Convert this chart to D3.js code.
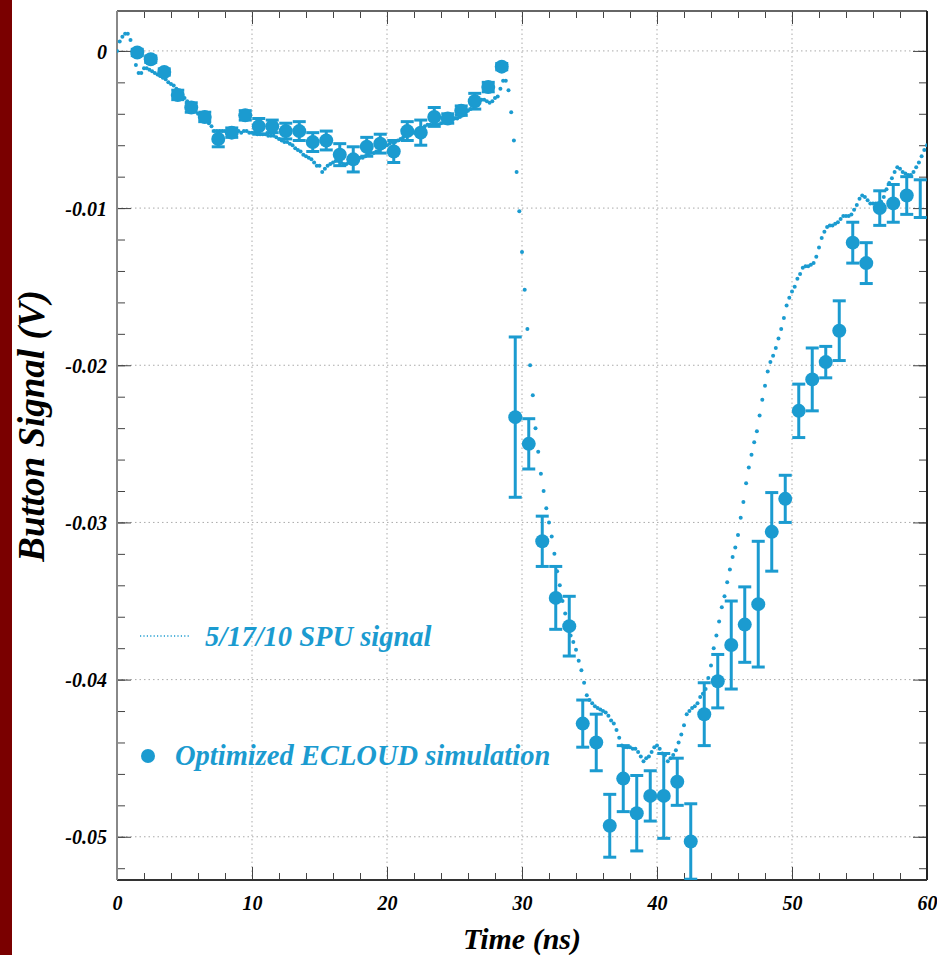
<!DOCTYPE html>
<html>
<head>
<meta charset="utf-8">
<script src="https://cdn.jsdelivr.net/npm/d3@7"></script>
<style>
  body { margin: 0; background: #fff; }
  svg { display: block; }
</style>
</head>
<body>
<svg id="chart"></svg>
<script>
// plot frame in page pixels
var frame = { left: 117, right: 927, top: 11, bottom: 880 };
var width = 937;
var height = 955;
var blue = '#1b9bd0';

// axis ticks and labels
var xMajor = [0, 10, 20, 30, 40, 50, 60];
var xLabels = ['0', '10', '20', '30', '40', '50', '60'];
var yMajor = [0, -0.01, -0.02, -0.03, -0.04, -0.05];
var yLabels = ['0', '-0.01', '-0.02', '-0.03', '-0.04', '-0.05'];

// optimized ECLOUD simulation (ns, V, error V)
var simTime = [1.5, 2.5, 3.5, 4.5, 5.5, 6.5, 7.5, 8.5, 9.5, 10.5,
  11.5, 12.5, 13.5, 14.5, 15.5, 16.5, 17.5, 18.5, 19.5, 20.5,
  21.5, 22.5, 23.5, 24.5, 25.5, 26.5, 27.5, 28.5, 29.5, 30.5,
  31.5, 32.5, 33.5, 34.5, 35.5, 36.5, 37.5, 38.5, 39.5, 40.5,
  41.5, 42.5, 43.5, 44.5, 45.5, 46.5, 47.5, 48.5, 49.5, 50.5,
  51.5, 52.5, 53.5, 54.5, 55.5, 56.5, 57.5, 58.5, 59.5];
var simValue = [-0.0001, -0.00053, -0.00134, -0.0028, -0.0036, -0.0042, -0.0056, -0.0052, -0.0041, -0.0048,
  -0.0048, -0.0051, -0.0051, -0.0058, -0.0057, -0.0066, -0.0069, -0.0061, -0.0059, -0.0064,
  -0.0051, -0.0052, -0.0042, -0.0043, -0.0038, -0.0032, -0.0023, -0.0010, -0.0233, -0.0250,
  -0.0312, -0.0348, -0.0366, -0.0428, -0.0440, -0.0493, -0.0463, -0.0485, -0.0474, -0.0474,
  -0.0465, -0.0503, -0.0422, -0.0401, -0.0378, -0.0365, -0.0352, -0.0306, -0.0285, -0.0229,
  -0.0209, -0.0198, -0.0178, -0.0122, -0.0135, -0.0100, -0.0097, -0.0092, -0.0094];
var simError = [0.0002, 0.0002, 0.0002, 0.0003, 0.0003, 0.0003, 0.0005, 0.0003, 0.0003, 0.0005,
  0.0004, 0.0005, 0.0006, 0.0006, 0.0006, 0.0007, 0.0008, 0.0006, 0.0006, 0.0007,
  0.0006, 0.0008, 0.0006, 0.0003, 0.0003, 0.0005, 0.0003, 0.0002, 0.0051, 0.0016,
  0.0016, 0.0020, 0.0019, 0.0015, 0.0018, 0.0020, 0.0021, 0.0024, 0.0016, 0.0027,
  0.0015, 0.0024, 0.0020, 0.0017, 0.0028, 0.0024, 0.0040, 0.0025, 0.0015, 0.0017,
  0.0020, 0.0010, 0.0019, 0.0013, 0.0013, 0.0011, 0.0012, 0.0012, 0.0012];

// 5/17/10 SPU signal, one sample every 0.2 ns starting at 0 ns
var signalStep = 0.2;
var signalValue = [
  0.0000, 0.0006, 0.0009, 0.0011, 0.0011,       // 0 ns
  0.0007, 0.0000, -0.0009, -0.0014, -0.0014,    // 1
  -0.0011, -0.0011, -0.0012, -0.0013, -0.0014,  // 2
  -0.0015, -0.0016, -0.0017, -0.0018, -0.0020,  // 3
  -0.0021, -0.0022, -0.0024, -0.0026, -0.0028,  // 4
  -0.0030, -0.0032, -0.0034, -0.0036, -0.0038,  // 5
  -0.0040, -0.0041, -0.0043, -0.0044, -0.0046,  // 6
  -0.0048, -0.0051, -0.0051, -0.0051, -0.0051,  // 7
  -0.0051, -0.0051, -0.0052, -0.0051, -0.0051,  // 8
  -0.0051, -0.0052, -0.0051, -0.0051, -0.0052,  // 9
  -0.0052, -0.0052, -0.0053, -0.0053, -0.0053,  // 10
  -0.0053, -0.0054, -0.0054, -0.0054, -0.0055,  // 11
  -0.0056, -0.0057, -0.0058, -0.0058, -0.0059,  // 12
  -0.0060, -0.0062, -0.0063, -0.0064, -0.0066,  // 13
  -0.0067, -0.0068, -0.0069, -0.0071, -0.0073,  // 14
  -0.0073, -0.0077, -0.0075, -0.0073, -0.0072,  // 15
  -0.0071, -0.0070, -0.0070, -0.0071, -0.0072,  // 16
  -0.0072, -0.0071, -0.0070, -0.0069, -0.0069,  // 17
  -0.0068, -0.0068, -0.0067, -0.0066, -0.0065,  // 18
  -0.0065, -0.0064, -0.0064, -0.0062, -0.0061,  // 19
  -0.0060, -0.0059, -0.0058, -0.0058, -0.0057,  // 20
  -0.0056, -0.0055, -0.0054, -0.0053, -0.0052,  // 21
  -0.0052, -0.0051, -0.0050, -0.0049, -0.0048,  // 22
  -0.0047, -0.0047, -0.0047, -0.0047, -0.0047,  // 23
  -0.0046, -0.0045, -0.0044, -0.0043, -0.0043,  // 24
  -0.0043, -0.0043, -0.0042, -0.0041, -0.0039,  // 25
  -0.0038, -0.0037, -0.0035, -0.0033, -0.0032,  // 26
  -0.0031, -0.0031, -0.0032, -0.0033, -0.0032,  // 27
  -0.0030, -0.0029, -0.0024, -0.0019, -0.0019,  // 28
  -0.0025, -0.0039, -0.0057, -0.0077, -0.0102,  // 29
  -0.0128, -0.0152, -0.0177, -0.0200, -0.0219,  // 30
  -0.0240, -0.0255, -0.0269, -0.0280, -0.0291,  // 31
  -0.0300, -0.0309, -0.0320, -0.0331, -0.0340,  // 32
  -0.0350, -0.0358, -0.0366, -0.0372, -0.0376,  // 33
  -0.0381, -0.0388, -0.0394, -0.0402, -0.0410,  // 34
  -0.0413, -0.0415, -0.0417, -0.0418, -0.0419,  // 35
  -0.0420, -0.0421, -0.0423, -0.0426, -0.0428,  // 36
  -0.0432, -0.0437, -0.0442, -0.0443, -0.0443,  // 37
  -0.0443, -0.0444, -0.0444, -0.0446, -0.0449,  // 38
  -0.0452, -0.0450, -0.0449, -0.0446, -0.0443,  // 39
  -0.0442, -0.0444, -0.0447, -0.0448, -0.0452,  // 40
  -0.0450, -0.0448, -0.0445, -0.0440, -0.0435,  // 41
  -0.0429, -0.0422, -0.0420, -0.0418, -0.0417,  // 42
  -0.0415, -0.0411, -0.0409, -0.0406, -0.0399,  // 43
  -0.0391, -0.0380, -0.0372, -0.0363, -0.0354,  // 44
  -0.0347, -0.0338, -0.0330, -0.0322, -0.0316,  // 45
  -0.0308, -0.0297, -0.0287, -0.0275, -0.0265,  // 46
  -0.0257, -0.0249, -0.0242, -0.0232, -0.0222,  // 47
  -0.0213, -0.0204, -0.0198, -0.0194, -0.0189,  // 48
  -0.0183, -0.0177, -0.0170, -0.0162, -0.0157,  // 49
  -0.0153, -0.0150, -0.0145, -0.0142, -0.0138,  // 50
  -0.0137, -0.0137, -0.0136, -0.0135, -0.0131,  // 51
  -0.0125, -0.0119, -0.0115, -0.0112, -0.0111,  // 52
  -0.0111, -0.0110, -0.0109, -0.0107, -0.0105,  // 53
  -0.0105, -0.0105, -0.0104, -0.0101, -0.0098,  // 54
  -0.0094, -0.0092, -0.0093, -0.0095, -0.0097,  // 55
  -0.0097, -0.0097, -0.0098, -0.0096, -0.0093,  // 56
  -0.0088, -0.0084, -0.0081, -0.0077, -0.0074,  // 57
  -0.0075, -0.0077, -0.0078, -0.0079, -0.0079,  // 58
  -0.0077, -0.0074, -0.0071, -0.0067, -0.0063,  // 59
  -0.0060];                                     // 60

var legendNames = ['5/17/10 SPU signal', 'Optimized ECLOUD simulation'];

var xScale = d3.scaleLinear()
  .domain([0, 60])
  .range([frame.left, frame.right]);

var yScale = d3.scaleLinear()
  .domain([-0.05275, 0.00254])
  .range([frame.bottom, frame.top]);

var svg = d3.select('#chart')
  .attr('width', width)
  .attr('height', height);

// dark red strip on the left edge
svg.append('rect')
  .attr('x', 0).attr('y', 0)
  .attr('width', 12).attr('height', height)
  .style('fill', '#7a0000');

svg.append('defs').append('clipPath')
    .attr('id', 'plotclip')
  .append('rect')
    .attr('x', frame.left).attr('y', frame.top)
    .attr('width', frame.right - frame.left)
    .attr('height', frame.bottom - frame.top);

// dotted grid at the major ticks
var grid = svg.append('g').attr('class', 'grid');
grid.selectAll('line.gx')
  .data(xMajor.slice(1, -1))
  .enter().append('line')
    .attr('x1', d => xScale(d)).attr('x2', d => xScale(d))
    .attr('y1', frame.top).attr('y2', frame.bottom);
grid.selectAll('line.gy')
  .data(yMajor)
  .enter().append('line')
    .attr('x1', frame.left).attr('x2', frame.right)
    .attr('y1', d => yScale(d)).attr('y2', d => yScale(d));
grid.selectAll('line')
  .style('stroke', '#aaa')
  .style('stroke-width', 1)
  .style('stroke-dasharray', '1.5,3');

var xMinor = d3.range(0, 60.01, 2);
var yMinor = d3.range(0, -0.0528, -0.002);

function tickStyle(g) {
  g.select('.domain').remove();
  g.selectAll('.tick line').style('stroke', '#444').style('stroke-width', 1);
}

// bottom axis with labels, ticks pointing in
svg.append('g')
    .attr('transform', 'translate(0,' + frame.bottom + ')')
    .call(d3.axisBottom(xScale).tickValues(xMajor).tickSize(-13).tickPadding(12)
      .tickFormat((d, i) => xLabels[i]))
    .call(tickStyle)
    .selectAll('text')
      .attr('class', 'ticklabel')
      .attr('dy', '0.9em');
svg.append('g')
    .attr('transform', 'translate(0,' + frame.bottom + ')')
    .call(d3.axisBottom(xScale).tickValues(xMinor).tickSize(-7).tickFormat(''))
    .call(tickStyle);

// top axis, ticks only
svg.append('g')
    .attr('transform', 'translate(0,' + frame.top + ')')
    .call(d3.axisTop(xScale).tickValues(xMajor).tickSize(-13).tickFormat(''))
    .call(tickStyle);
svg.append('g')
    .attr('transform', 'translate(0,' + frame.top + ')')
    .call(d3.axisTop(xScale).tickValues(xMinor).tickSize(-7).tickFormat(''))
    .call(tickStyle);

// left axis with labels
svg.append('g')
    .attr('transform', 'translate(' + frame.left + ',0)')
    .call(d3.axisLeft(yScale).tickValues(yMajor).tickSize(-14).tickPadding(10)
      .tickFormat((d, i) => yLabels[i]))
    .call(tickStyle)
    .selectAll('text')
      .attr('class', 'ticklabel')
      .attr('dy', '0.36em');
svg.append('g')
    .attr('transform', 'translate(' + frame.left + ',0)')
    .call(d3.axisLeft(yScale).tickValues(yMinor).tickSize(-8).tickFormat(''))
    .call(tickStyle);

// right axis, ticks only
svg.append('g')
    .attr('transform', 'translate(' + frame.right + ',0)')
    .call(d3.axisRight(yScale).tickValues(yMajor).tickSize(-14).tickFormat(''))
    .call(tickStyle);
svg.append('g')
    .attr('transform', 'translate(' + frame.right + ',0)')
    .call(d3.axisRight(yScale).tickValues(yMinor).tickSize(-8).tickFormat(''))
    .call(tickStyle);

svg.selectAll('.ticklabel')
  .style('font-family', '"Liberation Serif", "Times New Roman", serif')
  .style('font-weight', 'bold')
  .style('font-style', 'italic')
  .style('font-size', '20px')
  .style('fill', '#000');

// frame lines
svg.append('line').attr('x1', frame.left).attr('x2', frame.right)
  .attr('y1', frame.top).attr('y2', frame.top).style('stroke', '#666');
svg.append('line').attr('x1', frame.right).attr('x2', frame.right)
  .attr('y1', frame.top).attr('y2', frame.bottom).style('stroke', '#222');
svg.append('line').attr('x1', frame.left).attr('x2', frame.right)
  .attr('y1', frame.bottom).attr('y2', frame.bottom).style('stroke', '#333');
svg.append('line').attr('x1', frame.left).attr('x2', frame.left)
  .attr('y1', frame.top).attr('y2', frame.bottom).style('stroke', '#888');
svg.selectAll('svg > line').style('stroke-width', 2);

var plot = svg.append('g').attr('clip-path', 'url(#plotclip)');

// signal dots
plot.append('g')
  .selectAll('circle')
  .data(signalValue)
  .enter()
  .append('circle')
    .attr('cx', (d, i) => xScale(i * signalStep))
    .attr('cy', d => yScale(d))
    .attr('r', 2)
    .style('fill', blue);

// simulation error bars
var sim = simTime.map((t, i) => ({ t: t, v: simValue[i], e: simError[i] }));
var bars = plot.append('g')
  .selectAll('g')
  .data(sim)
  .enter()
  .append('g')
    .style('stroke', blue)
    .style('stroke-width', 3);
bars.append('line')
  .attr('x1', d => xScale(d.t)).attr('x2', d => xScale(d.t))
  .attr('y1', d => yScale(d.v + d.e)).attr('y2', d => yScale(d.v - d.e));
bars.append('line')
  .attr('x1', d => xScale(d.t) - 6.5).attr('x2', d => xScale(d.t) + 6.5)
  .attr('y1', d => yScale(d.v + d.e)).attr('y2', d => yScale(d.v + d.e));
bars.append('line')
  .attr('x1', d => xScale(d.t) - 6.5).attr('x2', d => xScale(d.t) + 6.5)
  .attr('y1', d => yScale(d.v - d.e)).attr('y2', d => yScale(d.v - d.e));

// markers (the last point sits on the frame and has none)
plot.append('g')
  .selectAll('circle')
  .data(sim.filter(d => d.t < 59))
  .enter()
  .append('circle')
    .attr('cx', d => xScale(d.t))
    .attr('cy', d => yScale(d.v))
    .attr('r', 7)
    .style('fill', blue);

// legend
svg.append('line')
  .attr('x1', 140).attr('x2', 190)
  .attr('y1', 636).attr('y2', 636)
  .style('stroke', blue)
  .style('stroke-width', 1.5)
  .style('stroke-dasharray', '1.2,2.2');
svg.append('circle')
  .attr('cx', 148).attr('cy', 756)
  .attr('r', 7)
  .style('fill', blue);
svg.selectAll('text.legend')
  .data(legendNames)
  .enter()
  .append('text')
    .attr('class', 'legend')
    .attr('x', (d, i) => i === 0 ? 205 : 175)
    .attr('y', (d, i) => i === 0 ? 646 : 765)
    .style('font-family', '"Liberation Serif", "Times New Roman", serif')
    .style('font-weight', 'bold')
    .style('font-style', 'italic')
    .style('font-size', '28.5px')
    .style('fill', blue)
    .text(d => d);

// axis titles
svg.append('text')
  .attr('x', (frame.left + frame.right) / 2 - 0)
  .attr('y', 949)
  .attr('text-anchor', 'middle')
  .style('font-family', '"Liberation Serif", "Times New Roman", serif')
  .style('font-weight', 'bold')
  .style('font-style', 'italic')
  .style('font-size', '30px')
  .text('Time (ns)');

svg.append('text')
  .attr('transform', 'translate(44,426) rotate(-90)')
  .attr('text-anchor', 'middle')
  .style('font-family', '"Liberation Serif", "Times New Roman", serif')
  .style('font-weight', 'bold')
  .style('font-style', 'italic')
  .style('font-size', '37px')
  .text('Button Signal (V)');
</script>
</body>
</html>
